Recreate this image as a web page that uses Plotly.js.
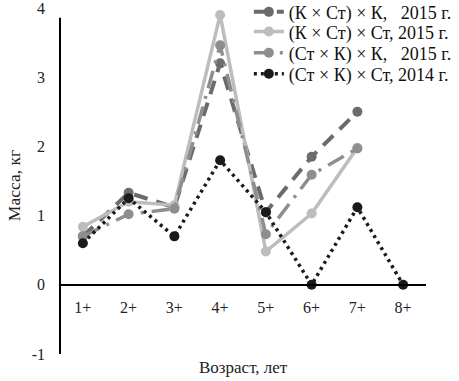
<!DOCTYPE html>
<html><head><meta charset="utf-8">
<script src="https://cdn.plot.ly/plotly-3.0.1.min.js"></script>
<style>html,body{margin:0;padding:0;background:#fff}#chart{width:459px;height:381px}</style>
</head><body><div id="chart"></div>
<script>
const categories = ["1+","2+","3+","4+","5+","6+","7+","8+"];
const series1Name = "(К × Ст) × К,\u00A0\u00A0 2015 г.";
const series1 = [0.7, 1.33, 1.12, 3.2, 1.05, 1.85, 2.5, null];
const series2Name = "(К × Ст) × Ст, 2015 г.";
const series2 = [0.84, 1.2, 1.15, 3.9, 0.48, 1.03, 1.98, null];
const series3Name = "(Ст × К) × К,\u00A0\u00A0 2015 г.";
const series3 = [0.7, 1.02, 1.1, 3.46, 0.73, 1.59, 1.97, null];
const series4Name = "(Ст × К) × Ст, 2014 г.";
const series4 = [0.6, 1.25, 0.7, 1.8, 1.05, 0, 1.12, 0];
const yTicks = [-1, 0, 1, 2, 3, 4];
const yTickText = ["-1", "0", "1", "2", "3", "4"];

const font = "Liberation Serif, Times New Roman, serif";
function tr(name, y, color, width, dash, msize, leg) {
  return {type:"scatter", mode:"lines+markers", name:name, x:categories, y:y,
    line:{color:color, width:width, dash:dash}, marker:{color:color, size:msize},
    connectgaps:false, legend:leg};
}
const data = [
  tr(series1Name, series1, "#6b6b6b", 4, "14px,9px", 10, "legend"),
  tr(series2Name, series2, "#bdbdbd", 3.5, "solid", 10, "legend2"),
  tr(series3Name, series3, "#8e8e8e", 3.5, "18px,8px,3px,8px", 10, "legend3"),
  tr(series4Name, series4, "#1a1a1a", 3.5, "3px,4px", 10, "legend4")
];
function leg(y) {
  return {x:0.516, y:y, xanchor:"left", yanchor:"middle", bgcolor:"rgba(0,0,0,0)",
    font:{family:font, size:18, color:"#111"}};
}
const layout = {
  width:459, height:381,
  margin:{l:60, r:33, t:8, b:27, autoexpand:false},
  paper_bgcolor:"#fff", plot_bgcolor:"#fff",
  font:{family:font, size:14, color:"#222"},
  showlegend:true,
  legend:leg(0.988), legend2:leg(0.931), legend3:leg(0.870), legend4:leg(0.809),
  xaxis:{type:"category", categoryorder:"array", categoryarray:categories,
    range:[-0.5,7.5], anchor:"free", position:0.2, showline:true, linecolor:"#000", linewidth:2,
    showgrid:false, zeroline:false, ticks:"", ticklabelstandoff:8,
    tickfont:{family:font, size:16, color:"#222"}},
  yaxis:{range:[-1,4], tickvals:yTicks, ticktext:yTickText, showgrid:false, zeroline:false,
    showline:false, ticks:"", ticklabelstandoff:14, ticklabeloverflow:"allow",
    tickfont:{family:font, size:16, color:"#222"}},
  shapes:[{type:"line", xref:"paper", yref:"y", x0:0, x1:0, y0:-1, y1:3.86,
    line:{color:"#000", width:2}, layer:"below"}],
  annotations:[
    {text:"Возраст, лет", xref:"paper", yref:"paper", x:0.5, y:-0.04,
      xanchor:"center", yanchor:"middle", showarrow:false, font:{family:font, size:17, color:"#222"}},
    {text:"Масса, кг", xref:"paper", yref:"paper", x:-0.1257, y:0.488, textangle:-90,
      xanchor:"center", yanchor:"middle", showarrow:false, font:{family:font, size:17.5, color:"#222"}}
  ]
};
Plotly.newPlot("chart", data, layout, {displayModeBar:false, staticPlot:true});
</script></body></html>
